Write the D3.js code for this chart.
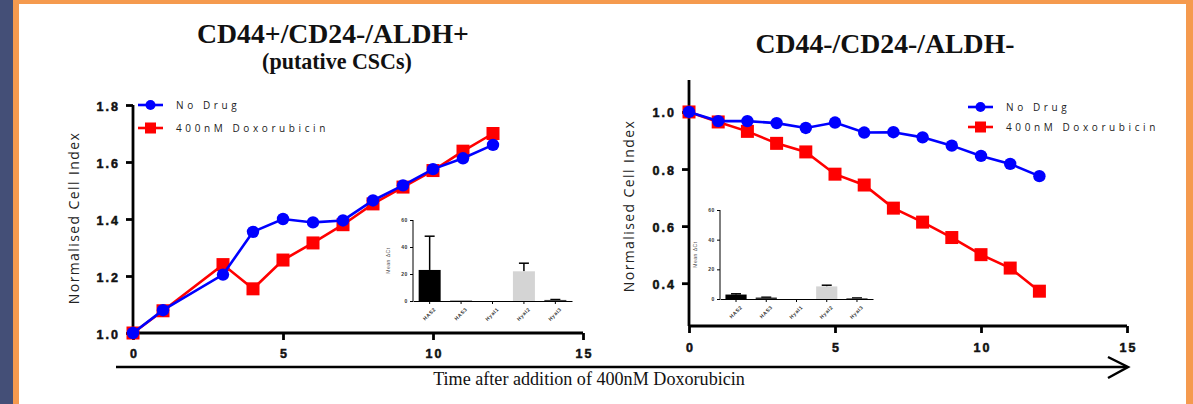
<!DOCTYPE html>
<html>
<head>
<meta charset="utf-8">
<title>Cell index after Doxorubicin</title>
<script src="https://d3js.org/d3.v7.min.js"></script>
<style>
  body { margin: 0; background: #fff; }
  svg { display: block; }
</style>
</head>
<body>
<div id="chart"></div>
<script>
// data
const timeLeft = [0, 1, 3, 4, 5, 6, 7, 8, 9, 10, 11, 12];
const leftNoDrug = [1.0, 1.08, 1.205, 1.355, 1.40, 1.388, 1.395, 1.465, 1.518, 1.575, 1.613, 1.66];
const leftDox = [1.0, 1.078, 1.24, 1.155, 1.256, 1.316, 1.38, 1.453, 1.512, 1.57, 1.638, 1.70];

const timeRight = [0, 1, 2, 3, 4, 5, 6, 7, 8, 9, 10, 11, 12];
const rightNoDrug = [1.0, 0.968, 0.968, 0.961, 0.944, 0.963, 0.928, 0.929, 0.911, 0.882, 0.846, 0.818, 0.775];
const rightDox = [1.0, 0.965, 0.932, 0.89, 0.86, 0.782, 0.744, 0.663, 0.614, 0.56, 0.50, 0.453, 0.372];

const seriesNames = ["No Drug", "400nM Doxorubicin"];
const xTicks = [0, 5, 10, 15];
const leftYTicks = [1.0, 1.2, 1.4, 1.6, 1.8];
const rightYTicks = [0.4, 0.6, 0.8, 1.0];

const genes = ["HAS2", "HAS3", "Hyal1", "Hyal2", "Hyal3"];
const leftInsetMean = [23, 0.3, 0, 22, 0.8];
const leftInsetErr = [25, 0, 0, 6, 0.3];
const rightInsetMean = [3, 1, 0, 8.5, 0.5];
const rightInsetErr = [0.5, 0.2, 0, 0.8, 0.2];
const insetTicks = [0, 20, 40, 60];

const W = 1193, H = 404;
const svg = d3.select("#chart").append("svg").attr("width", W).attr("height", H);

// slide frame
svg.append("rect").attr("width", W).attr("height", H).attr("fill", "#f59a4e");
svg.append("rect").attr("width", 13).attr("height", H).attr("fill", "#444f77");
svg.append("rect").attr("x", 19).attr("y", 4).attr("width", 1167).attr("height", H).attr("fill", "#fff");

const sansBold = "'Liberation Sans', Arial, sans-serif";
const blue = "#0000ff", red = "#ff0000";

function fitWidth(sel, w) {
    let len = sel.node().getComputedTextLength();
    let fs = parseFloat(sel.attr("font-size"));
    sel.attr("font-size", fs * w / len);
}

function title(txt, cx, y, size, w) {
    let t = svg.append("text")
        .attr("x", cx).attr("y", y)
        .attr("text-anchor", "middle")
        .attr("font-family", "'Liberation Serif', 'DejaVu Serif', serif")
        .attr("font-weight", "bold")
        .attr("font-size", size)
        .attr("fill", "#111")
        .text(txt);
    fitWidth(t, w);
}

title("CD44+/CD24-/ALDH+", 333, 43, 26, 272);
title("(putative CSCs)", 337, 69, 18, 150);
title("CD44-/CD24-/ALDH-", 885, 53, 26, 259);

function panel(cfg) {
    let x = d3.scaleLinear().domain([0, 15]).range(cfg.xr);
    let y = d3.scaleLinear().domain(cfg.yd).range(cfg.yr);
    let g = svg.append("g");

    // axes
    let xAxis = d3.axisBottom(x).tickValues(xTicks).tickSize(7).tickPadding(cfg.xPad)
        .tickFormat(d => String(d));
    let gx = g.append("g").attr("transform", "translate(0," + cfg.yr[0] + ")").call(xAxis);
    let yAxis = d3.axisLeft(y).tickValues(cfg.yTicks).tickSize(7).tickPadding(6)
        .tickFormat(d3.format(".1f"));
    let gy = g.append("g").attr("transform", "translate(" + cfg.xr[0] + ",0)").call(yAxis);
    [gx, gy].forEach(a => {
        a.select(".domain").attr("stroke-width", 2.8).attr("stroke", "#000");
        a.selectAll(".tick line").attr("stroke-width", 2.8);
        a.selectAll("text")
            .attr("font-family", sansBold).attr("font-weight", "bold")
            .attr("font-size", 12.5).attr("letter-spacing", "2px").attr("fill", "#111")
            .attr("stroke", "#111").attr("stroke-width", 0.5);
    });
    gx.select(".domain").attr("d", "M" + cfg.xr[0] + ",0H" + cfg.xr[1]);
    gy.select(".domain").attr("d", "M0," + cfg.yr[0] + "V" + cfg.yr[1]);
    gx.selectAll("text").attr("dx", "1px");
    gy.selectAll("text").attr("dy", "0.4em");

    // y label
    g.append("text")
        .attr("transform", "translate(" + cfg.labX + "," + cfg.labY + ") rotate(-90)")
        .attr("text-anchor", "middle")
        .attr("font-family", "'Open Sans', 'Noto Sans', sans-serif")
        .attr("font-size", 14).attr("letter-spacing", "1.4px").attr("fill", "#222")
        .text("Normalised Cell Index");

    // inset bar chart
    drawInset(g, cfg.inset);

    // series: red first, blue on top
    let line = d3.line().x(d => x(d[0])).y(d => y(d[1]));
    let dox = cfg.t.map((t, i) => [t, cfg.dox[i]]);
    let nod = cfg.t.map((t, i) => [t, cfg.noDrug[i]]);
    g.append("path").datum(dox).attr("d", line)
        .attr("fill", "none").attr("stroke", red).attr("stroke-width", 2.6);
    g.selectAll(".sq").data(dox).enter().append("rect")
        .attr("x", d => x(d[0]) - 6.5).attr("y", d => y(d[1]) - 6.5)
        .attr("width", 13).attr("height", 13).attr("fill", red);
    g.append("path").datum(nod).attr("d", line)
        .attr("fill", "none").attr("stroke", blue).attr("stroke-width", 2.6);
    g.selectAll(".dot").data(nod).enter().append("circle")
        .attr("cx", d => x(d[0])).attr("cy", d => y(d[1])).attr("r", 6.2).attr("fill", blue);

    // legend
    let lg = g.append("g").attr("transform", "translate(" + cfg.leg[0] + "," + cfg.leg[1] + ")");
    seriesNames.forEach((name, i) => {
        let row = lg.append("g").attr("transform", "translate(0," + (i * cfg.legGap) + ")");
        let col = i === 0 ? blue : red;
        row.append("line").attr("x1", 0).attr("x2", 25).attr("stroke", col).attr("stroke-width", 2.6);
        if (i === 0) row.append("circle").attr("cx", 12.5).attr("r", 5).attr("fill", col);
        else row.append("rect").attr("x", 7).attr("y", -5.5).attr("width", 11).attr("height", 11).attr("fill", col);
        row.append("text").attr("x", 38).attr("y", 4)
            .attr("font-family", "'Open Sans', 'Noto Sans', sans-serif")
            .attr("font-size", 10).attr("letter-spacing", "3.6px").attr("fill", "#222")
            .text(name);
    });
}

function drawInset(g, c) {
    let x = d3.scaleBand().domain(genes).range([c.x0, c.x1]).paddingInner(0.3).paddingOuter(0.18);
    let y = d3.scaleLinear().domain([0, 60]).range([c.y0, c.y1]);
    let ig = g.append("g");
    let cols = ["#000", "#333", "#666", "#d4d4d4", "#444"];

    // error bars (upper only)
    c.mean.forEach((m, i) => {
        if (c.err[i] <= 0) return;
        let cx = x(genes[i]) + x.bandwidth() / 2;
        ig.append("line").attr("x1", cx).attr("x2", cx)
            .attr("y1", y(m)).attr("y2", y(m + c.err[i])).attr("stroke", "#000").attr("stroke-width", 1.5);
        ig.append("line").attr("x1", cx - 5).attr("x2", cx + 5)
            .attr("y1", y(m + c.err[i])).attr("y2", y(m + c.err[i])).attr("stroke", "#000").attr("stroke-width", 1.5);
    });
    ig.selectAll("rect").data(c.mean).enter().append("rect")
        .attr("x", (d, i) => x(genes[i])).attr("width", x.bandwidth())
        .attr("y", d => y(d)).attr("height", d => Math.max(0, y(0) - y(d)))
        .attr("fill", (d, i) => cols[i]);

    let ya = ig.append("g").attr("transform", "translate(" + c.x0 + ",0)")
        .call(d3.axisLeft(y).tickValues(insetTicks).tickSize(3).tickPadding(2));
    let xa = ig.append("g").attr("transform", "translate(0," + c.y0 + ")")
        .call(d3.axisBottom(x).tickSize(3).tickPadding(2).tickSizeOuter(0));
    [ya, xa].forEach(a => {
        a.select(".domain").attr("stroke-width", 1);
        a.selectAll("text").attr("font-family", sansBold).attr("font-weight", "bold")
            .attr("font-size", 5).attr("fill", "#333").attr("letter-spacing", "0.6px");
    });
    ya.select(".domain").attr("d", "M0," + c.y0 + "V" + c.y1);
    xa.selectAll("text").attr("text-anchor", "end")
        .attr("transform", "translate(2,4) rotate(-45)").attr("dy", "0.3em");
    ig.append("text")
        .attr("transform", "translate(" + (c.x0 - 23) + "," + ((c.y0 + c.y1) / 2) + ") rotate(-90)")
        .attr("text-anchor", "middle").attr("font-family", sansBold)
        .attr("font-size", 5).attr("fill", "#555").attr("letter-spacing", "0.5px")
        .text("Mean ΔCt");
}

panel({
    xr: [133, 583], yd: [1.0, 1.8], yr: [333, 105], yTicks: leftYTicks, xPad: 9,
    t: timeLeft, noDrug: leftNoDrug, dox: leftDox,
    labX: 79, labY: 218, leg: [138, 105], legGap: 23,
    inset: { x0: 413, x1: 572, y0: 301, y1: 220, mean: leftInsetMean, err: leftInsetErr }
});

panel({
    xr: [689, 1127], yd: [0.25, 1.112], yr: [326, 80], yTicks: rightYTicks, xPad: 10,
    t: timeRight, noDrug: rightNoDrug, dox: rightDox,
    labX: 634, labY: 206, leg: [968, 107], legGap: 20,
    inset: { x0: 720, x1: 873, y0: 299, y1: 210, mean: rightInsetMean, err: rightInsetErr }
});

// shared time arrow
svg.append("line").attr("x1", 116).attr("x2", 1127).attr("y1", 367).attr("y2", 367)
    .attr("stroke", "#000").attr("stroke-width", 2.5);
svg.append("path").attr("d", "M1108,357L1128,367L1108,378")
    .attr("fill", "none").attr("stroke", "#000").attr("stroke-width", 2.5);
let cap = svg.append("text").attr("x", 589).attr("y", 385).attr("text-anchor", "middle")
    .attr("font-family", "'Liberation Serif', 'DejaVu Serif', serif")
    .attr("font-size", 14).attr("fill", "#111")
    .text("Time after addition of 400nM Doxorubicin");
fitWidth(cap, 312);
</script>
</body>
</html>
